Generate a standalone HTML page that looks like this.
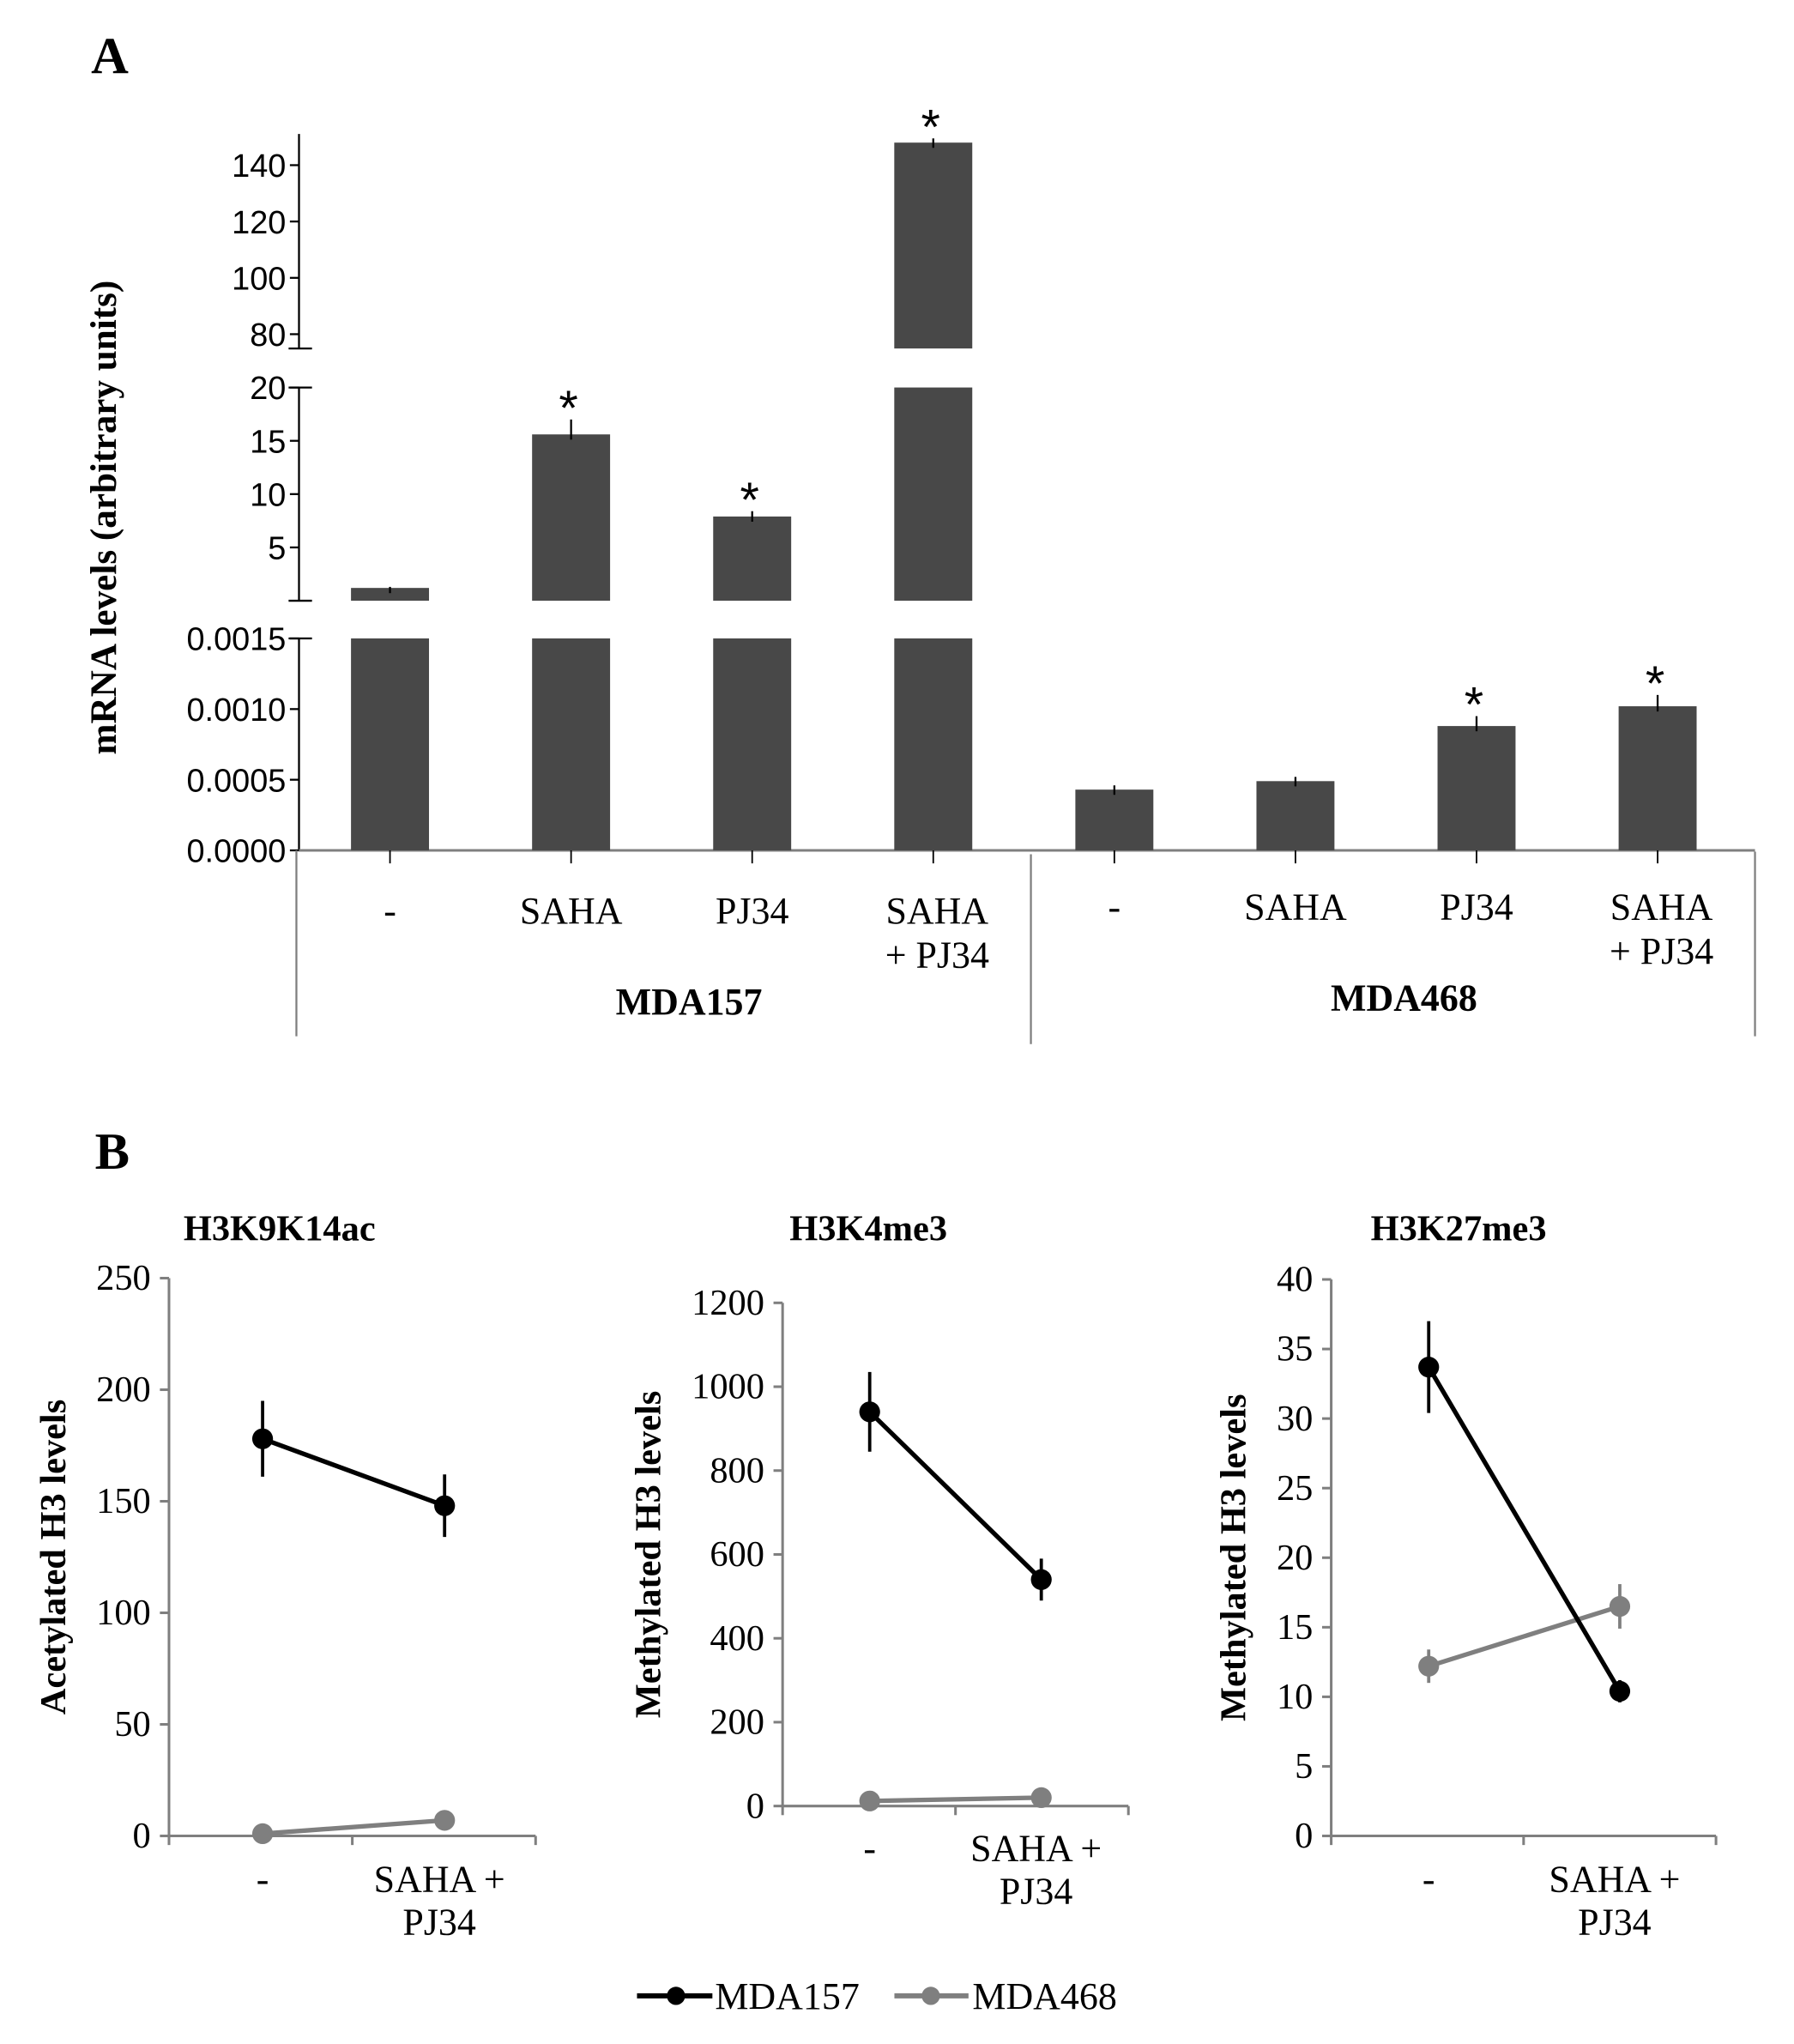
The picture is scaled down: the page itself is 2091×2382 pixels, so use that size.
<!DOCTYPE html>
<html><head><meta charset="utf-8"><style>
html,body{margin:0;padding:0;background:#fff;}
svg{display:block;}
.sans{font-family:"Liberation Sans",sans-serif;}
.serif{font-family:"Liberation Serif",serif;}
</style></head><body>
<svg id="fig" width="2091" height="2382" viewBox="0 0 1380 1572" xmlns="http://www.w3.org/2000/svg">
<text x="70" y="56" class="serif" font-weight="bold" font-size="40">A</text>
<text x="73" y="899" class="serif" font-weight="bold" font-size="40">B</text>
<g id="pa"></g>
<g id="pb"></g>
</svg>
<script>
// ---------- Panel A data ----------
const aCategories = ["-", "SAHA", "PJ34", "SAHA\n+ PJ34", "-", "SAHA", "PJ34", "SAHA\n+ PJ34"];
const aGroups = ["MDA157", "MDA468"];
const aValues = [1.2, 15.6, 7.9, 148, 0.00043, 0.00049, 0.00088, 0.00102];
const aErrors = [0.1, 1.4, 0.5, 1.5, 0.00003, 0.00003, 0.00007, 0.00008];
const aSignif = [false, true, true, true, false, false, true, true];
const aTicksLow = [0, 0.0005, 0.0010, 0.0015];
const aTickLabelsLow = ["0.0000", "0.0005", "0.0010", "0.0015"];
const aTicksMid = [5, 10, 15, 20];
const aTicksTop = [80, 100, 120, 140];

// ---------- Panel B data ----------
const bTitles = ["H3K9K14ac", "H3K4me3", "H3K27me3"];
const bYTitles = ["Acetylated H3 levels", "Methylated H3 levels", "Methylated H3 levels"];
const bCategories = ["-", "SAHA +\nPJ34"];
const bSeriesNames = ["MDA157", "MDA468"];
const b1MDA157 = [178, 148];
const b1MDA157Err = [17, 14];
const b1MDA468 = [1, 7];
const b1MDA468Err = [0, 0];
const b2MDA157 = [940, 540];
const b2MDA157Err = [95, 50];
const b2MDA468 = [12, 20];
const b2MDA468Err = [0, 0];
const b3MDA157 = [33.7, 10.4];
const b3MDA157Err = [3.3, 0.8];
const b3MDA468 = [12.2, 16.5];
const b3MDA468Err = [1.2, 1.6];
const b1Ticks = [0, 50, 100, 150, 200, 250];
const b2Ticks = [0, 200, 400, 600, 800, 1000, 1200];
const b3Ticks = [0, 5, 10, 15, 20, 25, 30, 35, 40];

const NS = "http://www.w3.org/2000/svg";
function mk(parent, tag, attrs, text) {
  const e = document.createElementNS(NS, tag);
  for (const k in attrs) e.setAttribute(k, attrs[k]);
  if (text !== undefined) e.textContent = text;
  parent.appendChild(e);
  return e;
}
const AX = "#7f7f7f", BAR = "#484848";

// ---------- Panel A ----------
(function () {
  const g = document.getElementById('pa');
  const axX = 230, base = 654;
  const yLow = v => base - (v / 0.0015) * (654 - 491);
  const yMid = v => 462 - (v / 20) * (462 - 298);
  const yTop = v => 257 - ((v - 80) / 60) * (257 - 127);
  const xC = i => 300 + i * 139.3;
  const bw = 60;
  let l = mk(g, 'line', { x1: axX, y1: 103, x2: axX, y2: 268, stroke: '#000', 'stroke-width': 1.5 });
   
  l = mk(g, 'line', { x1: axX, y1: 298, x2: axX, y2: 462, stroke: '#000', 'stroke-width': 1.5 });
   
  l = mk(g, 'line', { x1: axX, y1: 491, x2: axX, y2: base, stroke: '#000', 'stroke-width': 1.5 });
   
  [268, 298, 462, 491].forEach(y => {
    const t = mk(g, 'line', { x1: axX - 8, y1: y, x2: axX + 10, y2: y, stroke: '#000', 'stroke-width': 1.5 });
     
  });
  function tick(y, lab) {
    mk(g, 'line', { x1: axX - 7, y1: y, x2: axX, y2: y, stroke: '#000', 'stroke-width': 1.5 });
    const t = mk(g, 'text', { x: axX - 10, y: y + 9, 'text-anchor': 'end', 'font-size': 25, class: 'sans' }, lab);
     
  }
  aTicksLow.forEach((v, i) => tick(yLow(v), aTickLabelsLow[i]));
  aTicksMid.forEach(v => tick(yMid(v), String(v)));
  aTicksTop.forEach(v => tick(yTop(v), String(v)));
  l = mk(g, 'line', { x1: axX, y1: base, x2: 1350, y2: base, stroke: AX, 'stroke-width': 2 });
   
  aValues.forEach((v, i) => {
    const cx = xC(i), x = cx - bw / 2;
    let topY;
    const yl = yLow(Math.min(v, 0.0015));
    let r = mk(g, 'rect', { x: x, y: yl, width: bw, height: base - yl, fill: BAR });
     
    topY = yl;
    let eTop = yLow(v + aErrors[i]);
    if (v > 0.0015) {
      const ym = yMid(Math.min(v, 20));
      r = mk(g, 'rect', { x: x, y: ym, width: bw, height: 462 - ym, fill: BAR });
       
      topY = ym; eTop = yMid(v + aErrors[i]);
      if (v > 20) {
        const yt = yTop(v);
        r = mk(g, 'rect', { x: x, y: yt, width: bw, height: 268 - yt, fill: BAR });
         
        topY = yt; eTop = yTop(v + aErrors[i]);
      }
    }
    const e = mk(g, 'line', { x1: cx, y1: eTop, x2: cx, y2: topY + 4, stroke: '#000', 'stroke-width': 1.5 });
     
    if (aSignif[i]) {
      const s = mk(g, 'text', { x: cx - 2, y: eTop + 4, 'text-anchor': 'middle', 'font-size': 38, class: 'sans' }, '*');
       
    }
    mk(g, 'line', { x1: cx, y1: base, x2: cx, y2: base + 10, stroke: '#000', 'stroke-width': 1.2 });
    const lines = aCategories[i].split('\n');
    const ly = i < 4 ? 710 : 707;
    lines.forEach((t, k) => {
      const tx = mk(g, 'text', { x: cx + (lines.length > 1 ? 3 : 0), y: ly + k * 34, 'text-anchor': 'middle', 'font-size': 29, class: 'serif' }, t);
       
    });
  });
  [[228, 654, 797], [793, 657, 803], [1350, 655, 797]].forEach(s => {
    const q = mk(g, 'line', { x1: s[0], y1: s[1], x2: s[0], y2: s[2], stroke: AX, 'stroke-width': 1.5 });
     
  });
  [[530, 780], [1080, 777]].forEach((p, i) => {
    const t = mk(g, 'text', { x: p[0], y: p[1], 'text-anchor': 'middle', 'font-size': 29, 'font-weight': 'bold', class: 'serif' }, aGroups[i]);
     
  });
  const yt = mk(g, 'text', { x: 0, y: 0, transform: 'translate(89 398) rotate(-90)', 'text-anchor': 'middle', 'font-size': 28.5, 'font-weight': 'bold', class: 'serif' }, 'mRNA levels (arbitrary units)');
   
})();

// ---------- Panel B ----------
(function () {
  const g = document.getElementById('pb');
  const cfgs = [
    { ax: 130, top: 983, bot: 1412, xEnd: 412, max: 250, ticks: b1Ticks, s1: b1MDA157, e1: b1MDA157Err, s2: b1MDA468, e2: b1MDA468Err, px: [202, 342], title: [215, 954], yt: 40, lab: 1445 },
    { ax: 602, top: 1002, bot: 1389, xEnd: 868, max: 1200, ticks: b2Ticks, s1: b2MDA157, e1: b2MDA157Err, s2: b2MDA468, e2: b2MDA468Err, px: [669, 801], title: [668, 954], yt: 498, lab: 1421 },
    { ax: 1024, top: 984, bot: 1412, xEnd: 1320, max: 40, ticks: b3Ticks, s1: b3MDA157, e1: b3MDA157Err, s2: b3MDA468, e2: b3MDA468Err, px: [1099, 1246], title: [1122, 954], yt: 948, lab: 1445 }
  ];
  cfgs.forEach((c, p) => {
    const sg = mk(g, 'g', {});
     
    const y = v => c.bot - (v / c.max) * (c.bot - c.top);
    let l = mk(sg, 'line', { x1: c.ax, y1: c.top, x2: c.ax, y2: c.bot, stroke: AX, 'stroke-width': 2 });
     
    l = mk(sg, 'line', { x1: c.ax, y1: c.bot, x2: c.xEnd, y2: c.bot, stroke: AX, 'stroke-width': 2 });
     
    const mid = (c.ax + c.xEnd) / 2;
    [c.ax, mid, c.xEnd].forEach(x => mk(sg, 'line', { x1: x, y1: c.bot, x2: x, y2: c.bot + 7, stroke: AX, 'stroke-width': 2 }));
    c.ticks.forEach(v => {
      mk(sg, 'line', { x1: c.ax - 7, y1: y(v), x2: c.ax, y2: y(v), stroke: AX, 'stroke-width': 2 });
      const t = mk(sg, 'text', { x: c.ax - 14, y: y(v) + 9, 'text-anchor': 'end', 'font-size': 28, class: 'serif' }, String(v));
       
    });
    let t = mk(sg, 'text', { x: c.title[0], y: c.title[1], 'text-anchor': 'middle', 'font-size': 28, 'font-weight': 'bold', class: 'serif' }, bTitles[p]);
     
    t = mk(sg, 'text', { x: 0, y: 0, transform: 'translate(' + (c.yt + 10) + ' ' + ((c.top + c.bot) / 2) + ') rotate(-90)', 'text-anchor': 'middle', 'font-size': 28, 'font-weight': 'bold', class: 'serif' }, bYTitles[p]);
     
    bCategories.forEach((cat, i) => {
      cat.split('\n').forEach((s, k) => {
        const tx = mk(sg, 'text', { x: c.px[i] - (i === 1 ? 4 : 0), y: c.lab + 10 + k * 33, 'text-anchor': 'middle', 'font-size': 29, class: 'serif' }, s);
         
      });
    });
    [[c.s2, c.e2, AX, 'mda468'], [c.s1, c.e1, '#000', 'mda157']].forEach(sr => {
      const [vals, errs, col, nm] = sr;
      const ln = mk(sg, 'line', { x1: c.px[0], y1: y(vals[0]), x2: c.px[1], y2: y(vals[1]), stroke: col, 'stroke-width': 3.5 });
       
      vals.forEach((v, i) => {
        if (errs[i] > 0) {
          const e = mk(sg, 'line', { x1: c.px[i], y1: y(v + errs[i]), x2: c.px[i], y2: y(v - errs[i]), stroke: col, 'stroke-width': 2.5 });
           
        }
        const m = mk(sg, 'circle', { cx: c.px[i], cy: y(v), r: 8, fill: col });
         
      });
    });
  });
  const lg = mk(g, 'g', {});
   
  [[490, 548, 520, 550, '#000'], [688, 745, 716, 748, AX]].forEach((d, i) => {
    const e = mk(lg, 'g', {});
     
    mk(e, 'line', { x1: d[0], y1: 1535, x2: d[1], y2: 1535, stroke: d[4], 'stroke-width': 4 });
    mk(e, 'circle', { cx: d[2], cy: 1535, r: 7, fill: d[4] });
    mk(e, 'text', { x: d[3], y: 1545, 'font-size': 29, class: 'serif' }, bSeriesNames[i]);
  });
})();
</script>
</body></html>
